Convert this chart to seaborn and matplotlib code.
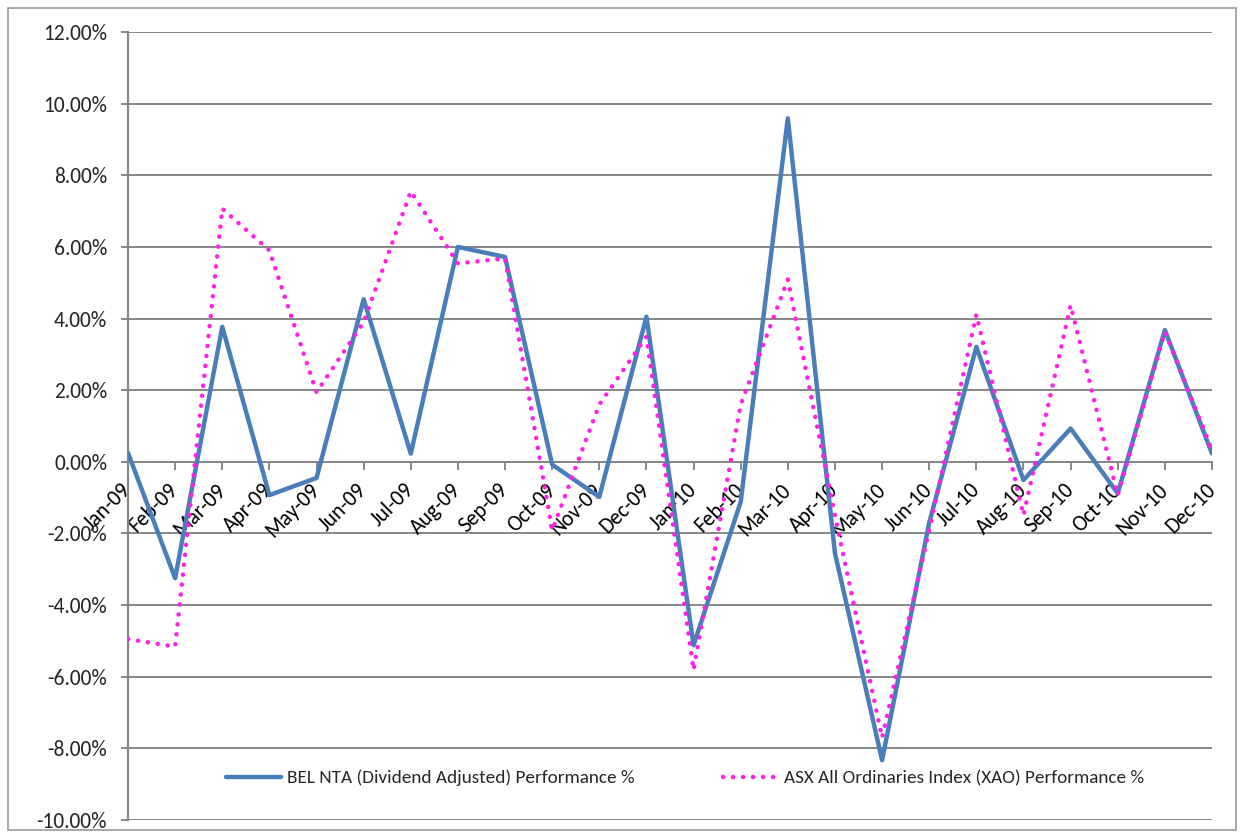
import matplotlib
matplotlib.use("Agg")
import matplotlib.pyplot as plt
import seaborn as sns
import pandas as pd
import numpy as np
from matplotlib.ticker import FuncFormatter, MultipleLocator
from matplotlib.patches import Rectangle

months = ["Jan-09", "Feb-09", "Mar-09", "Apr-09", "May-09", "Jun-09", "Jul-09", "Aug-09",
          "Sep-09", "Oct-09", "Nov-09", "Dec-09", "Jan-10", "Feb-10", "Mar-10", "Apr-10",
          "May-10", "Jun-10", "Jul-10", "Aug-10", "Sep-10", "Oct-10", "Nov-10", "Dec-10"]

bel_nta = [0.25, -3.25, 3.77, -0.93, -0.45, 4.54, 0.23, 6.00, 5.72, -0.08, -0.98, 4.05,
           -5.12, -1.12, 9.59, -2.55, -8.33, -1.70, 3.21, -0.51, 0.93, -0.88, 3.68, 0.23]

asx_xao = [-4.95, -5.16, 7.07, 5.90, 1.94, 3.90, 7.55, 5.54, 5.68, -1.91, 1.60, 3.49,
           -5.81, 1.60, 5.09, -1.50, -7.70, -1.90, 4.11, -1.49, 4.37, -0.93, 3.63, 0.33]

bel_label = "BEL NTA (Dividend Adjusted) Performance %"
asx_label = "ASX All Ordinaries Index (XAO) Performance %"

sns.set_theme(style="white")
plt.rcParams['font.family'] = ['Carlito', 'Liberation Sans Narrow', 'Liberation Sans', 'DejaVu Sans']

df = pd.DataFrame({"idx": np.arange(len(months)), "month": months,
                   bel_label: bel_nta, asx_label: asx_xao})

fig = plt.figure(figsize=(12.42, 8.36), dpi=100)
fig.patch.set_facecolor("white")
ax = fig.add_axes([128/1242, 1-820/836, (1212-128)/1242, (820-32)/836])

grid_c = "#878787"
for v in np.arange(-10, 12.01, 2):
    ax.axhline(v, color=grid_c, lw=1.4, zorder=0)

sns.lineplot(data=df, x="idx", y=bel_label, ax=ax, color="#4A7EBB", lw=3.2,
             label=bel_label, zorder=3)
sns.lineplot(data=df, x="idx", y=asx_label, ax=ax, color="#FF1FE6", lw=3.2,
             label=asx_label, zorder=4, dashes=False)
ln = ax.get_lines()[-1]
ln.set_linestyle((0, (0.05, 2.2)))
ln.set_dash_capstyle("round")

for s in ["top", "right"]:
    ax.spines[s].set_visible(False)
ax.spines["left"].set_color(grid_c)
ax.spines["left"].set_linewidth(1.6)
ax.spines["bottom"].set_position(("data", 0))
ax.spines["bottom"].set_color(grid_c)
ax.spines["bottom"].set_linewidth(1.4)

ax.set_xlim(0, len(months) - 1)
ax.set_ylim(-10, 12)
ax.yaxis.set_major_locator(MultipleLocator(2))
ax.yaxis.set_major_formatter(FuncFormatter(lambda v, p: f"{v:.2f}%"))
ax.set_xticks(df["idx"])
ax.set_xticklabels(months)
ax.set_xlabel("")
ax.set_ylabel("")

ax.tick_params(axis="y", direction="out", length=5, width=1.4, color=grid_c,
               labelsize=15.5, pad=10, left=True)
ax.tick_params(axis="x", direction="out", length=6, width=1.4, color=grid_c,
               labelsize=15.5, pad=12, bottom=True)
for t in ax.get_xticklabels():
    t.set_color("black")
    t.set_rotation(45)
    t.set_rotation_mode("anchor")
    t.set_ha("right")
    t.set_va("center")

ax.legend(loc="center", bbox_to_anchor=(685/1242, 1-778/836), bbox_transform=fig.transFigure,
          ncol=2, frameon=False, fontsize=13.8, handlelength=2.9, handletextpad=0.3,
          columnspacing=4.6)

fig.patches.append(Rectangle((8/1242, 1-830/836), (1236-8)/1242, (830-8)/836,
                             transform=fig.transFigure, fill=False, edgecolor="#9a9a9a",
                             lw=1.2, zorder=0))

fig.savefig("out.png", dpi=100)
